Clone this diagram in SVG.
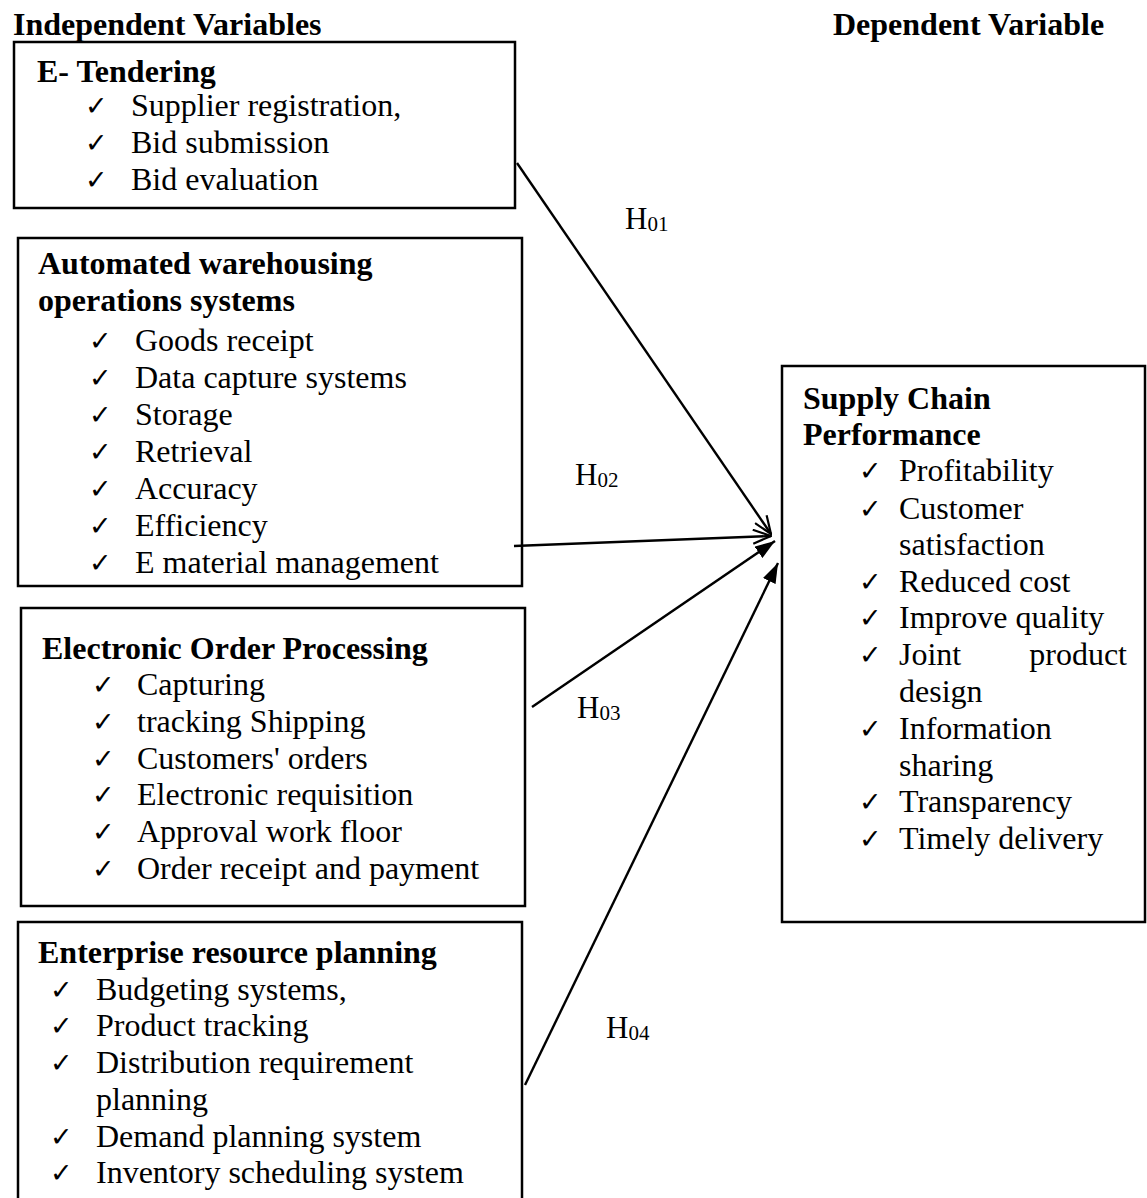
<svg xmlns="http://www.w3.org/2000/svg" width="1147" height="1198" viewBox="0 0 1147 1198">
<style>
.t{font-family:"Liberation Serif","Times New Roman",serif;font-size:32px;fill:#000}
.b{font-family:"Liberation Serif","Times New Roman",serif;font-size:32px;font-weight:bold;fill:#000}
.c{font-family:"DejaVu Sans",sans-serif;font-size:27px;fill:#000}
.h{font-family:"Liberation Serif","Times New Roman",serif;font-size:31px;fill:#000}
.s{font-size:21px}
.box{fill:#fff;stroke:#000;stroke-width:2.5}
.ln{stroke:#000;stroke-width:2.4;fill:none}
</style>
<defs>
<marker id="open" viewBox="0 0 20 16" refX="19" refY="8" markerWidth="20" markerHeight="16" orient="auto" markerUnits="userSpaceOnUse"><path d="M1,1 L19,8 L1,15" fill="none" stroke="#000" stroke-width="2.2"/></marker>
<marker id="fill" viewBox="0 0 20 14" refX="20" refY="7" markerWidth="20" markerHeight="14" orient="auto" markerUnits="userSpaceOnUse"><path d="M0,0 L20,7 L0,14 Z" fill="#000"/></marker>
</defs>
<rect width="1147" height="1198" fill="#fff"/>
<text class="b" x="13" y="35">Independent Variables</text>
<text class="b" x="833" y="35">Dependent Variable</text>

<g id="etendering">
<rect class="box" x="14" y="42" width="501" height="166"/>
<text class="b" x="37" y="82">E- Tendering</text>
<text class="c" x="85" y="115">✓</text><text class="t" x="131" y="116">Supplier registration,</text>
<text class="c" x="85" y="152">✓</text><text class="t" x="131" y="153">Bid submission</text>
<text class="c" x="85" y="189">✓</text><text class="t" x="131" y="190">Bid evaluation</text>
</g>

<g id="warehousing">
<rect class="box" x="18" y="238" width="504" height="348"/>
<text class="b" x="38" y="274">Automated warehousing</text>
<text class="b" x="38" y="311">operations systems</text>
<text class="c" x="89" y="350">✓</text><text class="t" x="135" y="351">Goods receipt</text>
<text class="c" x="89" y="387">✓</text><text class="t" x="135" y="388">Data capture systems</text>
<text class="c" x="89" y="424">✓</text><text class="t" x="135" y="425">Storage</text>
<text class="c" x="89" y="461">✓</text><text class="t" x="135" y="462">Retrieval</text>
<text class="c" x="89" y="498">✓</text><text class="t" x="135" y="499">Accuracy</text>
<text class="c" x="89" y="535">✓</text><text class="t" x="135" y="536">Efficiency</text>
<text class="c" x="89" y="572">✓</text><text class="t" x="135" y="573">E material management</text>
</g>

<g id="orderprocessing">
<rect class="box" x="21" y="608" width="504" height="298"/>
<text class="b" x="42" y="659">Electronic Order Processing</text>
<text class="c" x="92" y="694">✓</text><text class="t" x="137" y="695">Capturing</text>
<text class="c" x="92" y="731">✓</text><text class="t" x="137" y="732">tracking Shipping</text>
<text class="c" x="92" y="768">✓</text><text class="t" x="137" y="769">Customers' orders</text>
<text class="c" x="92" y="804">✓</text><text class="t" x="137" y="805">Electronic requisition</text>
<text class="c" x="92" y="841">✓</text><text class="t" x="137" y="842">Approval work floor</text>
<text class="c" x="92" y="878">✓</text><text class="t" x="137" y="879">Order receipt and payment</text>
</g>

<g id="erp">
<rect class="box" x="18" y="922" width="504" height="300"/>
<text class="b" x="38" y="963">Enterprise resource planning</text>
<text class="c" x="50" y="999">✓</text><text class="t" x="96" y="1000">Budgeting systems,</text>
<text class="c" x="50" y="1035">✓</text><text class="t" x="96" y="1036">Product tracking</text>
<text class="c" x="50" y="1072">✓</text><text class="t" x="96" y="1073">Distribution requirement</text>
<text class="t" x="96" y="1110">planning</text>
<text class="c" x="50" y="1146">✓</text><text class="t" x="96" y="1147">Demand planning system</text>
<text class="c" x="50" y="1182">✓</text><text class="t" x="96" y="1183">Inventory scheduling system</text>
</g>

<g id="performance">
<rect class="box" x="782" y="366" width="363" height="556"/>
<text class="b" x="803" y="409">Supply Chain</text>
<text class="b" x="803" y="445">Performance</text>
<text class="c" x="859" y="480">✓</text><text class="t" x="899" y="481">Profitability</text>
<text class="c" x="859" y="518">✓</text><text class="t" x="899" y="519">Customer</text>
<text class="t" x="899" y="555">satisfaction</text>
<text class="c" x="859" y="591">✓</text><text class="t" x="899" y="592">Reduced cost</text>
<text class="c" x="859" y="627">✓</text><text class="t" x="899" y="628">Improve quality</text>
<text class="c" x="859" y="664">✓</text><text class="t" x="899" y="665">Joint<tspan x="1127" text-anchor="end">product</tspan></text>
<text class="t" x="899" y="702">design</text>
<text class="c" x="859" y="738">✓</text><text class="t" x="899" y="739">Information</text>
<text class="t" x="899" y="776">sharing</text>
<text class="c" x="859" y="811">✓</text><text class="t" x="899" y="812">Transparency</text>
<text class="c" x="859" y="848">✓</text><text class="t" x="899" y="849">Timely delivery</text>
</g>

<g id="connectors">
<line class="ln" x1="517" y1="163" x2="771" y2="534" marker-end="url(#open)"/>
<line class="ln" x1="514" y1="546" x2="771" y2="536" marker-end="url(#open)"/>
<line class="ln" x1="532" y1="707" x2="775" y2="541" marker-end="url(#fill)"/>
<line class="ln" x1="525" y1="1085" x2="778" y2="563" marker-end="url(#fill)"/>
<text class="h" x="625" y="229">H<tspan class="s" dy="2">01</tspan></text>
<text class="h" x="575" y="485">H<tspan class="s" dy="2">02</tspan></text>
<text class="h" x="577" y="718">H<tspan class="s" dy="2">03</tspan></text>
<text class="h" x="606" y="1038">H<tspan class="s" dy="2">04</tspan></text>
</g>
</svg>
